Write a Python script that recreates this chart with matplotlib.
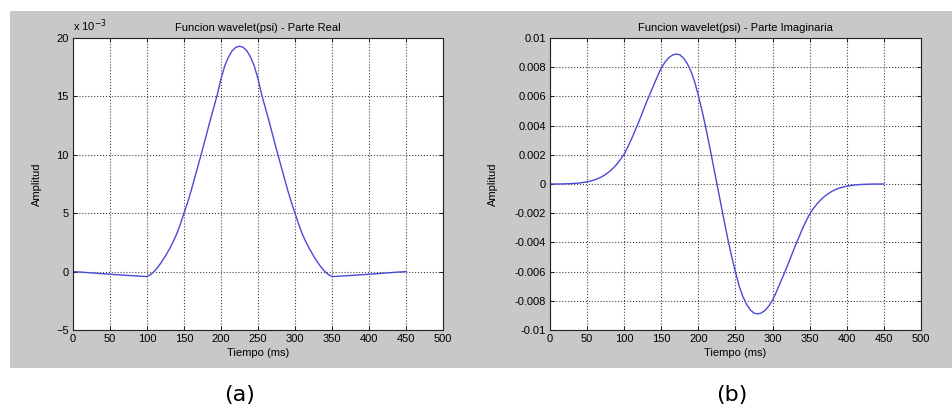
import matplotlib
matplotlib.use("Agg")
import matplotlib.pyplot as plt
from matplotlib.patches import Rectangle

# === Data (time in ms, 5 ms steps) ===
tiempo = list(range(0, 455, 5))

# real part, in units of 1e-3
parte_real = [0.0, -0.02, -0.04, -0.06, -0.09, -0.11, -0.13, -0.16, -0.18, -0.20,
              -0.22, -0.25, -0.27, -0.29, -0.31, -0.33, -0.35, -0.37, -0.39, -0.41,
              -0.42, -0.25, 0.03, 0.40, 0.85, 1.35, 1.90, 2.50, 3.20, 4.05,
              5.00, 5.95, 7.00, 8.15, 9.30, 10.45, 11.65, 12.85, 14.00, 15.15,
              16.50, 17.60, 18.35, 18.90, 19.20, 19.30, 19.20, 18.90, 18.35, 17.60,
              16.50, 15.15, 14.00, 12.85, 11.65, 10.45, 9.30, 8.15, 7.00, 5.95,
              5.00, 4.05, 3.20, 2.50, 1.90, 1.35, 0.85, 0.40, 0.03, -0.25,
              -0.42, -0.41, -0.39, -0.37, -0.35, -0.33, -0.31, -0.29, -0.27, -0.25,
              -0.22, -0.20, -0.18, -0.16, -0.13, -0.11, -0.09, -0.06, -0.04, -0.02,
              0.0]

# imaginary part, in units of 1e-3
parte_imag = [0.0, 0.0, 0.0, 0.005, 0.01, 0.02, 0.03, 0.05, 0.07, 0.11,
              0.15, 0.21, 0.28, 0.38, 0.50, 0.66, 0.85, 1.08, 1.35, 1.68,
              2.05, 2.55, 3.10, 3.70, 4.30, 4.95, 5.60, 6.20, 6.80, 7.40,
              7.95, 8.35, 8.65, 8.83, 8.90, 8.85, 8.62, 8.25, 7.72, 7.00,
              6.05, 5.00, 3.85, 2.60, 1.30, 0.0, -1.30, -2.60, -3.85, -5.00,
              -6.05, -7.00, -7.72, -8.25, -8.62, -8.85, -8.90, -8.83, -8.65, -8.35,
              -7.95, -7.40, -6.80, -6.20, -5.60, -4.95, -4.30, -3.70, -3.10, -2.55,
              -2.05, -1.68, -1.35, -1.08, -0.85, -0.66, -0.50, -0.38, -0.28, -0.21,
              -0.15, -0.11, -0.07, -0.05, -0.03, -0.02, -0.01, -0.005, 0.0, 0.0,
              0.0]

xticks = [0, 50, 100, 150, 200, 250, 300, 350, 400, 450, 500]
yticks_real = [-5, 0, 5, 10, 15, 20]
yticks_imag = [-0.01, -0.008, -0.006, -0.004, -0.002, 0, 0.002, 0.004, 0.006, 0.008, 0.01]
yticklabels_imag = ['-0.01', '-0.008', '-0.006', '-0.004', '-0.002', '0',
                    '0.002', '0.004', '0.006', '0.008', '0.01']

plt.rcParams['font.family'] = ['Liberation Sans', 'DejaVu Sans']
fs = 8
line_color = '#4a4ad6'

fig = plt.figure(figsize=(9.53, 4.08), dpi=100, facecolor='white')
W, H = 953, 408

# gray matlab figure panel (behind the axes)
panel = Rectangle((10 / W, 1 - 368 / H), 1 - 10 / W, (368 - 11) / H,
                  transform=fig.transFigure, facecolor='#c8c8c8',
                  edgecolor='none', zorder=-10)
fig.add_artist(panel)


def style_axes(ax, ypad):
    ax.set_facecolor('white')
    ax.grid(True, linestyle=':', color='#444444', linewidth=0.8)
    ax.set_axisbelow(True)
    ax.tick_params(direction='in', top=True, right=True, length=3,
                   labelsize=fs, pad=3, width=0.6)
    for s in ax.spines.values():
        s.set_linewidth(0.8)
        s.set_color('#222222')
    ax.set_xlim(0, 500)
    ax.set_xticks(xticks)
    ax.set_xlabel('Tiempo (ms)', fontsize=fs, labelpad=3)
    ax.set_ylabel('Amplitud', fontsize=fs, labelpad=ypad)


# === (a) real part ===
ax1 = fig.add_axes([73 / W, 1 - 330 / H, 370 / W, 292 / H])
ax1.plot(tiempo, parte_real, color=line_color, linewidth=1.0)
style_axes(ax1, 10)
ax1.set_ylim(-5, 20)
ax1.set_yticks(yticks_real)
ax1.set_title('Funcion wavelet(psi) - Parte Real', fontsize=fs, pad=5)
ax1.text(0.0, 1.015, 'x 10$^{-3}$', transform=ax1.transAxes, fontsize=fs,
         ha='left', va='bottom')

# === (b) imaginary part ===
ax2 = fig.add_axes([550 / W, 1 - 330 / H, 371 / W, 292 / H])
ax2.plot(tiempo, [v * 1e-3 for v in parte_imag], color=line_color, linewidth=1.0)
style_axes(ax2, 12)
ax2.set_ylim(-0.01, 0.01)
ax2.set_yticks(yticks_imag)
ax2.set_yticklabels(yticklabels_imag)
ax2.set_title('Funcion wavelet(psi) - Parte Imaginaria', fontsize=fs, pad=5)

# panel letters
fig.text(240 / W, 1 - 395 / H, '(a)', fontsize=16, ha='center', va='center',
         family='DejaVu Sans')
fig.text(732 / W, 1 - 395 / H, '(b)', fontsize=16, ha='center', va='center',
         family='DejaVu Sans')

plt.savefig('out.png', dpi=100, facecolor='white')
